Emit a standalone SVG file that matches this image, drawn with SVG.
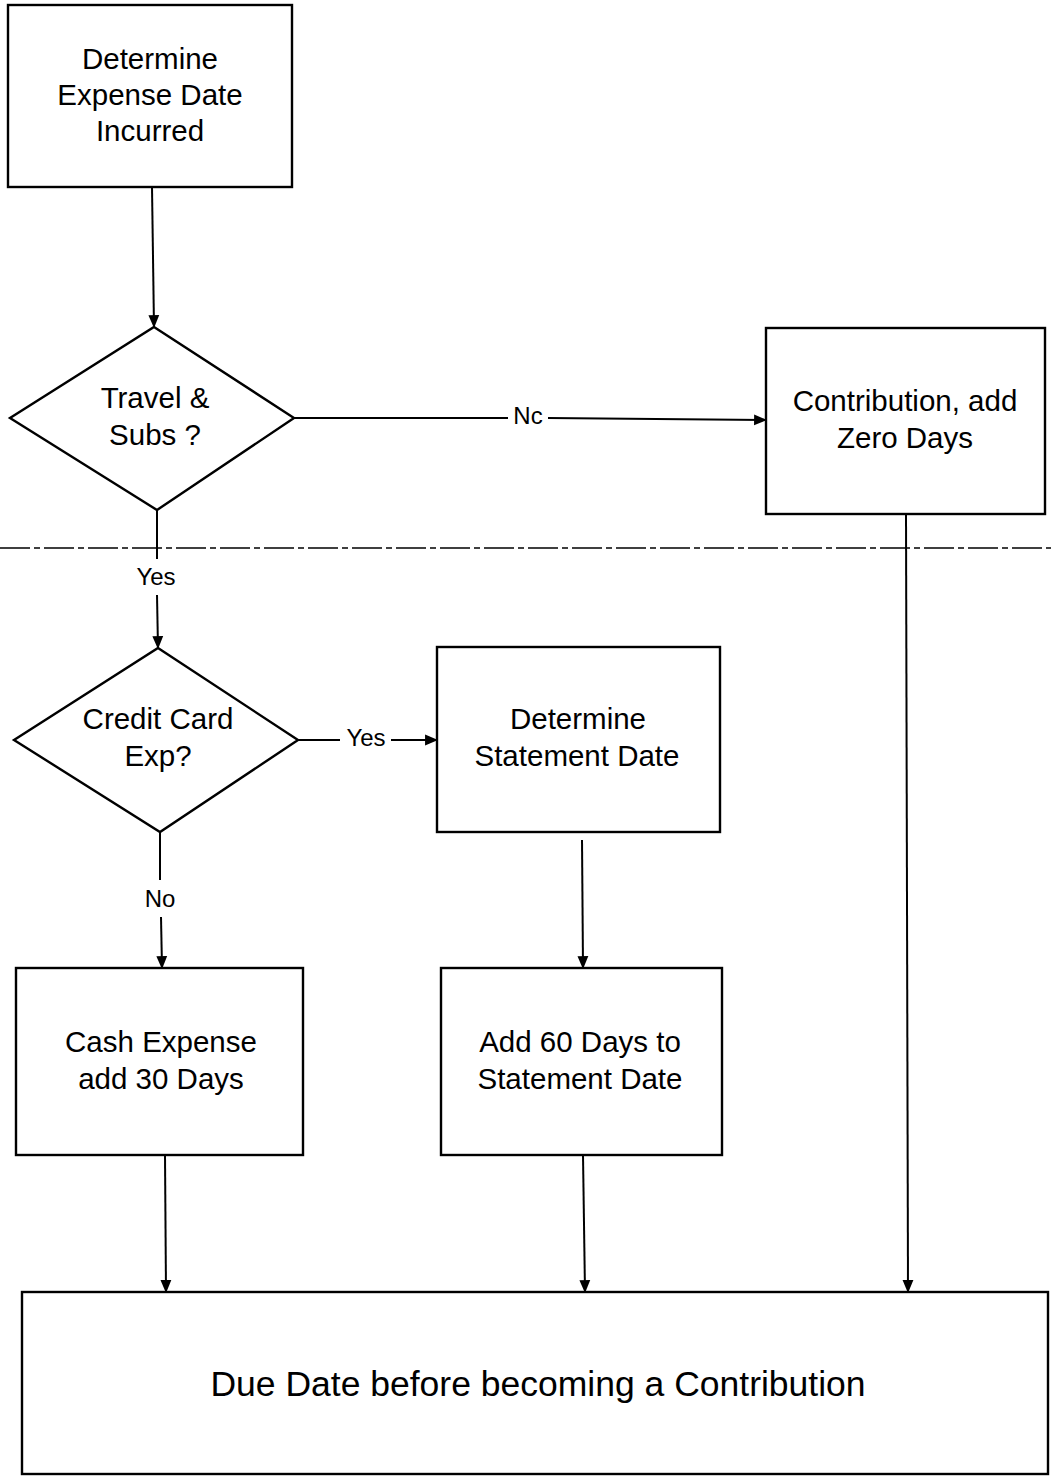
<svg xmlns="http://www.w3.org/2000/svg" width="1051" height="1476" viewBox="0 0 1051 1476">
<defs>
<marker id="arr" viewBox="0 0 12 12" refX="11" refY="6" markerWidth="13" markerHeight="13" markerUnits="userSpaceOnUse" orient="auto">
<path d="M0,1 L12,6 L0,11 Z" fill="#000"/>
</marker>
<style>
.box{fill:#fff;stroke:#000;stroke-width:2.4}
.t{font-family:"Liberation Sans",Arial,sans-serif;font-size:29.5px;fill:#000;text-anchor:middle}
.big{font-size:35.5px}
.lbl{font-family:"Liberation Sans",Arial,sans-serif;font-size:24px;fill:#000;text-anchor:middle}
.ln{fill:none;stroke:#000;stroke-width:2}
.dash{fill:none;stroke:#000;stroke-width:1.3;stroke-dasharray:30 4 6 4}
</style>
</defs>
<rect width="1051" height="1476" fill="#fff"/>
<line class="dash" x1="0" y1="548" x2="1051" y2="548"/>
<g id="connectors">
<line class="ln" x1="152" y1="187" x2="154" y2="327" marker-end="url(#arr)"/>
<line class="ln" x1="294" y1="418" x2="508" y2="418"/>
<line class="ln" x1="548" y1="418" x2="766" y2="420" marker-end="url(#arr)"/>
<text class="lbl" x="528" y="424">Nc</text>
<line class="ln" x1="157" y1="510" x2="157" y2="559"/>
<line class="ln" x1="157" y1="595" x2="158" y2="648" marker-end="url(#arr)"/>
<text class="lbl" x="156" y="585">Yes</text>
<line class="ln" x1="298" y1="740" x2="340" y2="740"/>
<line class="ln" x1="391" y1="740" x2="437" y2="740" marker-end="url(#arr)"/>
<text class="lbl" x="366" y="746">Yes</text>
<line class="ln" x1="160" y1="832" x2="160" y2="880"/>
<line class="ln" x1="161" y1="917" x2="162" y2="968" marker-end="url(#arr)"/>
<text class="lbl" x="160" y="907">No</text>
<line class="ln" x1="582" y1="840" x2="583" y2="968" marker-end="url(#arr)"/>
<line class="ln" x1="165" y1="1155" x2="166" y2="1292" marker-end="url(#arr)"/>
<line class="ln" x1="583" y1="1155" x2="585" y2="1292" marker-end="url(#arr)"/>
<line class="ln" x1="906" y1="514" x2="908" y2="1292" marker-end="url(#arr)"/>
</g>
<g id="n1">
<rect class="box" x="8" y="5" width="284" height="182"/>
<text class="t" x="150" y="69">Determine</text>
<text class="t" x="150" y="105">Expense Date</text>
<text class="t" x="150" y="141">Incurred</text>
</g>
<g id="n2">
<polygon class="box" points="154,327 294,418 157,510 10,418"/>
<text class="t" x="155" y="408">Travel &amp;</text>
<text class="t" x="155" y="445">Subs ?</text>
</g>
<g id="n3">
<rect class="box" x="766" y="328" width="279" height="186"/>
<text class="t" x="905" y="411">Contribution, add</text>
<text class="t" x="905" y="448">Zero Days</text>
</g>
<g id="n4">
<polygon class="box" points="158,648 298,740 160,832 14,740"/>
<text class="t" x="158" y="729">Credit Card</text>
<text class="t" x="158" y="766">Exp?</text>
</g>
<g id="n5">
<rect class="box" x="437" y="647" width="283" height="185"/>
<text class="t" x="578" y="729">Determine</text>
<text class="t" x="577" y="766">Statement Date</text>
</g>
<g id="n6">
<rect class="box" x="16" y="968" width="287" height="187"/>
<text class="t" x="161" y="1052">Cash Expense</text>
<text class="t" x="161" y="1089">add 30 Days</text>
</g>
<g id="n7">
<rect class="box" x="441" y="968" width="281" height="187"/>
<text class="t" x="580" y="1052">Add 60 Days to</text>
<text class="t" x="580" y="1089">Statement Date</text>
</g>
<g id="n8">
<rect class="box" x="22" y="1292" width="1026" height="182"/>
<text class="t big" x="538" y="1396">Due Date before becoming a Contribution</text>
</g>
</svg>
